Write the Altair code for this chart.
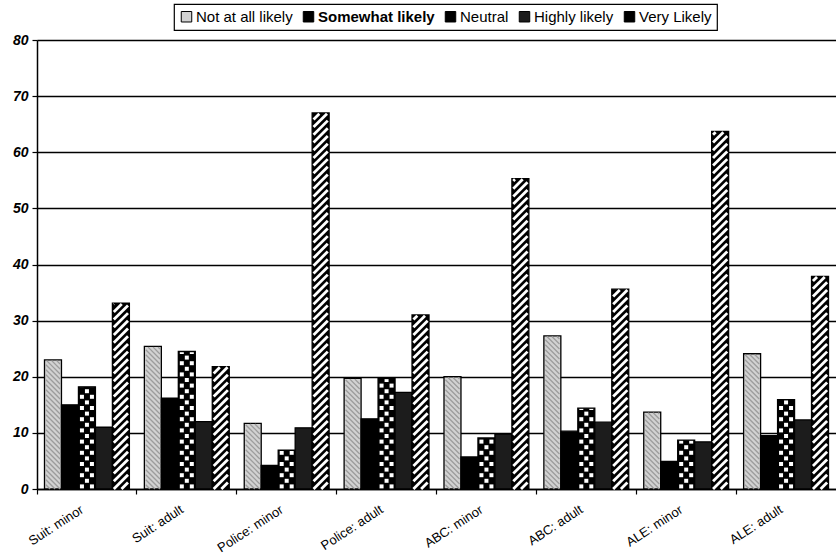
import math
import altair as alt
import pandas as pd

# ---------------- data ----------------
categories = ["Suit: minor", "Suit: adult", "Police: minor", "Police: adult",
              "ABC: minor", "ABC: adult", "ALE: minor", "ALE: adult"]
series = ["Not at all likely", "Somewhat likely", "Neutral", "Highly likely", "Very Likely"]

not_at_all_likely = [23.0, 25.4, 11.7, 19.7, 20.0, 27.3, 13.7, 24.1]
somewhat_likely = [15.0, 16.2, 4.2, 12.5, 5.7, 10.3, 4.9, 9.5]
neutral = [18.2, 24.5, 6.9, 19.7, 9.1, 14.4, 8.7, 15.9]
highly_likely = [11.0, 12.0, 10.9, 17.2, 9.8, 11.9, 8.4, 12.3]
very_likely = [33.1, 21.8, 67.0, 31.0, 55.3, 35.6, 63.7, 37.9]

y_ticks = [0, 10, 20, 30, 40, 50, 60, 70, 80]
y_max = 80

series_values = [not_at_all_likely, somewhat_likely, neutral, highly_likely, very_likely]
fill_colors = ["#d2d2d2", "#000000", "#000000", "#1c1c1c", "#000000"]

# ---------------- layout ----------------
FONT = "Liberation Sans"
W, H = 799, 449
PAD_INNER = 0.15
PAD_OUTER = PAD_INNER / 2
n_cat = len(categories)
n_ser = len(series)
step_px = W / n_cat
bar_frac = (1 - PAD_INNER) / n_ser          # bar width as a fraction of one category step
bar_px = bar_frac * step_px
px_per_unit = H / y_max
top_gap = 0.7 / px_per_unit

rows = []
for gi, cat in enumerate(categories):
    for si, s in enumerate(series):
        rows.append({"category": cat, "series": s, "value": series_values[si][gi]})
df = pd.DataFrame(rows)

# ---------------- pattern geometry derived from the bars ----------------
# checker of white squares on "Neutral" bars
col_pitch = 5.0 / step_px
sq_w = 4.0 / step_px
row_pitch = 5.6 / px_per_unit
sq_h = 4.0 / px_per_unit
checker_rows = []
si_n = series.index("Neutral")
for gi in range(n_cat):
    v = neutral[gi] - top_gap
    left = gi + PAD_OUTER + si_n * bar_frac
    c = left + bar_frac / 2
    r = 0
    while True:
        y0 = 0.6 / px_per_unit + r * row_pitch
        if y0 >= v:
            break
        y1 = min(v, y0 + sq_h)
        cols = (-1, 1) if r % 2 == 0 else (0,)
        for j in cols:
            cx = c + j * col_pitch
            checker_rows.append({"x0": cx - sq_w / 2, "x1": cx + sq_w / 2, "y0": y0, "y1": y1})
        r += 1
checker_df = pd.DataFrame(checker_rows)


def diagonal_lines(values, si, period_px, rising):
    """Segments of a hatch clipped to each bar of series si."""
    inset = 1.4 / step_px
    span_px = bar_px - 2.8
    rise = span_px / px_per_unit
    period = period_px / px_per_unit
    out = []
    for gi in range(n_cat):
        v = values[gi] - top_gap
        left = gi + PAD_OUTER + si * bar_frac
        xl = left + inset
        xr = left + bar_frac - inset
        jmin = -int(math.ceil(rise / period)) - 1
        jmax = int(math.ceil(v / period)) + 1
        for j in range(jmin, jmax + 1):
            b = j * period
            t0 = max(0.0, (0.0 - b) / rise)
            t1 = min(1.0, (v - b) / rise)
            if t1 <= t0:
                continue
            ya, yb = b + t0 * rise, b + t1 * rise
            if rising:
                xa, xb = xl + t0 * (xr - xl), xl + t1 * (xr - xl)
            else:
                xa, xb = xr - t0 * (xr - xl), xr - t1 * (xr - xl)
            out.append({"x0": xa, "y0": ya, "x1": xb, "y1": yb})
    return pd.DataFrame(out)


stripe_df = diagonal_lines(very_likely, series.index("Very Likely"), 7.7, True)
hatch_df = diagonal_lines(not_at_all_likely, series.index("Not at all likely"), 5.0, False)

# ---------------- chart ----------------
bars = alt.Chart(df).mark_bar(stroke="black", strokeWidth=1.3).encode(
    x=alt.X("category:N", sort=categories,
            scale=alt.Scale(domain=categories, paddingInner=PAD_INNER, paddingOuter=PAD_OUTER),
            axis=alt.Axis(title=None, labelAngle=-33, labelAlign="right", labelBaseline="top",
                          labelFont=FONT, labelFontSize=13, labelColor="black",
                          labelPadding=9, labelOffset=-8,
                          tickSize=5, tickColor="black", tickWidth=1.2,
                          bandPosition=-PAD_OUTER / (1 - PAD_INNER),
                          domainColor="black", domainWidth=1.5, grid=False, labelOverlap=False)),
    xOffset=alt.XOffset("series:N", sort=series,
                        scale=alt.Scale(domain=series, paddingInner=0, paddingOuter=0)),
    y=alt.Y("value:Q", scale=alt.Scale(domain=[0, y_max], nice=False),
            axis=alt.Axis(title=None, values=y_ticks, labelFont=FONT, labelFontSize=14,
                          labelFontWeight="bold", labelFontStyle="italic", labelColor="black",
                          labelPadding=4, tickSize=5, tickColor="black", tickWidth=1.2,
                          domainColor="black", domainWidth=1.5,
                          grid=True, gridColor="black", gridWidth=1.4)),
    fill=alt.Fill("series:N", sort=series,
                  scale=alt.Scale(domain=series, range=fill_colors),
                  legend=alt.Legend(title=None, orient="none", legendX=137, legendY=-36,
                                    direction="horizontal", symbolType="square", symbolSize=110,
                                    symbolStrokeColor="black", symbolStrokeWidth=1,
                                    labelFont=FONT, labelFontSize=15, labelColor="black",
                                    labelFontWeight=alt.ExprRef(expr="datum.label == 'Somewhat likely' ? 'bold' : 'normal'"),
                                    strokeColor="black", fillColor="white",
                                    padding=5, columnPadding=8, labelOffset=2)),
)

qx = alt.Scale(domain=[0, n_cat], nice=False, zero=False)
qy = alt.Scale(domain=[0, y_max], nice=False)


def seg_layer(data, mark):
    return alt.Chart(data).mark_rule(**mark).encode(
        x=alt.X("x0:Q", scale=qx, axis=None),
        x2="x1:Q",
        y=alt.Y("y0:Q", scale=qy, axis=None),
        y2="y1:Q",
    )


hatch = seg_layer(hatch_df, dict(color="#9c9c9c", strokeWidth=1.3, strokeCap="butt"))

checker = alt.Chart(checker_df).mark_rect(fill="white").encode(
    x=alt.X("x0:Q", scale=qx, axis=None),
    x2="x1:Q",
    y=alt.Y("y0:Q", scale=qy, axis=None),
    y2="y1:Q",
)

stripes = seg_layer(stripe_df, dict(color="white", strokeWidth=2.8, strokeCap="butt"))

chart = alt.layer(bars, hatch, checker, stripes).resolve_scale(
    x="independent", y="independent"
).properties(
    width=W, height=H,
    padding={"left": 37, "top": 40, "right": 0, "bottom": 67},
    autosize=alt.AutoSizeParams(type="none"),
    background="white",
).configure_view(strokeWidth=0).configure_legend(strokeWidth=1.2)

chart.save("out.html", embed_options={"renderer": "svg", "actions": False})
